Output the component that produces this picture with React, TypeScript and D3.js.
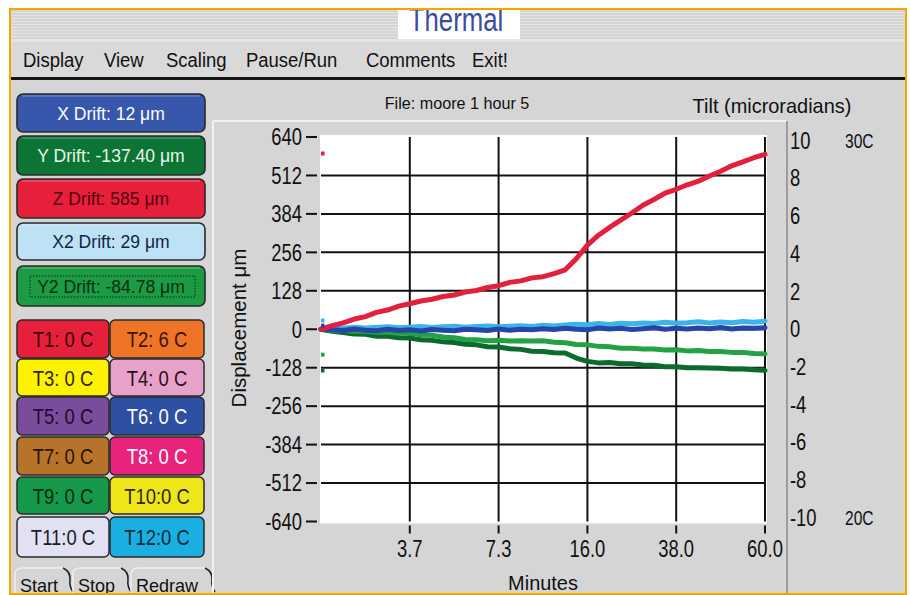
import React from 'react';
import * as d3 from 'd3';

// ---------- data ----------
const samplePos = [0, 0.125, 0.25, 0.375, 0.5, 0.625, 0.75, 0.875, 1, 1.125, 1.25, 1.375, 1.5, 1.625, 1.75, 1.875, 2, 2.125, 2.25, 2.375, 2.5, 2.625, 2.75, 2.875, 3, 3.125, 3.25, 3.375, 3.5, 3.625, 3.75, 3.875, 4, 4.125, 4.25, 4.375, 4.5, 4.625, 4.75, 4.875, 5];
const zDrift = [0, 12, 21, 34, 42, 56, 64, 77, 85, 94, 100, 109, 114, 124, 129, 139, 145, 156, 161, 171, 175, 185, 198, 235, 280, 313, 339, 363, 387, 413, 432, 453, 466, 481, 493, 510, 526, 544, 557, 571, 582];
const yDrift = [0, -7, -11, -16, -17, -23, -23, -28, -29, -35, -37, -42, -44, -50, -52, -58, -59, -65, -67, -73, -74, -78, -79, -96, -107, -112, -111, -115, -115, -119, -120, -125, -125, -128, -128, -129, -130, -132, -132, -135, -137];
const y2Drift = [0, -4, -4, -7, -7, -10, -10, -13, -13, -18, -20, -26, -28, -34, -35, -38, -37, -39, -38, -39, -38, -43, -45, -51, -52, -57, -58, -63, -63, -66, -66, -69, -68, -72, -71, -74, -74, -77, -77, -81, -82];
const xDrift = [0, -2, -4, 1, -3, -5, 0, -4, -2, -6, -1, -3, -5, 0, -2, -4, 1, -3, 0, -2, 2, -1, 3, 0, -2, 4, 1, 3, -1, 2, 5, 0, 3, 1, 4, 2, 6, 1, 4, 3, 5];
const x2Drift = [0, 5, 3, 7, 4, 6, 8, 5, 7, 9, 6, 8, 10, 7, 9, 11, 8, 10, 12, 9, 13, 11, 14, 17, 15, 19, 16, 20, 18, 21, 19, 23, 20, 22, 25, 21, 24, 22, 26, 23, 27];

const xTickLabels = ['3.7', '7.3', '16.0', '38.0', '60.0'];
const dispTicks = [640, 512, 384, 256, 128, 0, -128, -256, -384, -512, -640];
const tiltTicks = [10, 8, 6, 4, 2, 0, -2, -4, -6, -8, -10];
const tempScaleLabels = ['30C', '20C'];
const menuItems = ['Display', 'View', 'Scaling', 'Pause/Run', 'Comments', 'Exit!'];
const driftLabels = ['X Drift: 12 μm', 'Y Drift: -137.40 μm', 'Z Drift: 585 μm', 'X2 Drift: 29 μm', 'Y2 Drift: -84.78 μm'];
const currentValues = [12, -137.4, 585, 29, -84.78];
const tempLabels = ['T1: 0 C', 'T2: 6 C', 'T3: 0 C', 'T4: 0 C', 'T5: 0 C', 'T6: 0 C', 'T7: 0 C', 'T8: 0 C', 'T9: 0 C', 'T10:0 C', 'T11:0 C', 'T12:0 C'];
const controlLabels = ['Start', 'Stop', 'Redraw'];
const fileTitle = 'File: moore 1 hour 5';

// ---------- styles ----------
const driftFill = ['#3757ad', '#0c7535', '#e6203b', '#bde1f5', '#1c9a44'];
const driftText = ['#ffffff', '#e9f7ea', '#55000f', '#132344', '#06300f'];
const lineColor = ['#2646a6', '#0b6a2c', '#e3203c', '#3cb4ea', '#22a244'];
const tempFill = ['#e6203b', '#ee7427', '#fff200', '#e6a2c9', '#7a4c9c', '#2d50a2', '#b7732a', '#e8237c', '#16984a', '#efe61a', '#e2e1f3', '#1aafe0'];
const tempText = ['#3a0008', '#3a1400', '#2a2a00', '#2a1020', '#220a30', '#ffffff', '#2a1400', '#ffffff', '#002a10', '#2a2a00', '#1a1a30', '#0a2a3a'];

const SANS = "'Liberation Sans', Arial, sans-serif";

type NProps = { x: number; y: number; size: number; sx?: number; anchor?: 'start' | 'middle' | 'end'; fill?: string; dy?: string; children: React.ReactNode };
function NText({ x, y, size, sx = 0.82, anchor = 'start', fill = '#111', dy, children }: NProps) {
  return (
    <text transform={`translate(${x},${y}) scale(${sx},1)`} textAnchor={anchor} dy={dy} fontFamily={SANS} fontSize={size} fill={fill}>{children}</text>
  );
}

export default function App() {
  const W = 910, H = 595;
  const plot = { l: 321, r: 765, t: 137, b: 521.5 };
  const x = d3.scaleLinear().domain([0, 5]).range([plot.l, plot.r]);
  const y = d3.scaleLinear().domain([-640, 640]).range([plot.b, plot.t]);
  const yTilt = d3.scaleLinear().domain([-10, 10]).range([517.5, 140.5]);
  const line = d3.line<number>().x((_, i) => x(samplePos[i])).y(d => y(d));

  const series = [yDrift, y2Drift, x2Drift, xDrift, zDrift];
  const seriesColor = [lineColor[1], lineColor[4], lineColor[3], lineColor[0], lineColor[2]];
  const markerColor = [lineColor[0], lineColor[1], lineColor[2], lineColor[3], lineColor[4]];

  const stripes = d3.range(11, 41, 3);
  const menuX = [23, 104, 166, 246, 366, 472];

  const driftTop = [94, 136, 179, 223, 266];
  const driftH = [38, 39, 39, 37, 40];
  const tempRowTop = [320, 359, 397, 437, 477, 517];
  const tempRowH = [38, 37, 38, 38, 37, 40];

  return (
    <svg width={W} height={H} style={{ position: 'absolute', left: 0, top: 0, display: 'block' }}>
      <defs>
        <clipPath id="titleClip"><rect x={11} y={10} width={894} height={32} /></clipPath>
      </defs>
      <rect width={W} height={H} fill="#ffffff" />
      {/* title bar */}
      <rect x={11} y={10} width={894} height={32} fill="#e4e4e4" />
      {stripes.map(s => (
        <line key={s} x1={11} x2={905} y1={s} y2={s} stroke="#c6c6c6" strokeWidth={1.2} />
      ))}
      <rect x={398} y={9} width={122} height={30} fill="#ffffff" />
      <g clipPath="url(#titleClip)">
        <NText x={456} y={31} size={33} sx={0.78} anchor="middle" fill="#3a4d9e">Thermal</NText>
      </g>
      {/* menu bar */}
      <rect x={11} y={42} width={894} height={36} fill="#d9d9d9" />
      {menuItems.map((m, i) => (
        <NText key={m} x={menuX[i]} y={67} size={21} sx={0.88}>{m}</NText>
      ))}
      <rect x={11} y={77} width={894} height={3} fill="#151515" />
      {/* main background */}
      <rect x={11} y={80} width={894} height={515} fill="#d5d5d5" />

      {/* drift buttons */}
      {driftLabels.map((lab, i) => (
        <g key={lab}>
          <rect x={17} y={driftTop[i]} width={188} height={driftH[i]} rx={6} fill={driftFill[i]} stroke="#2a2a2a" strokeWidth={1.6} />
          <line x1={22} x2={200} y1={driftTop[i] + 2} y2={driftTop[i] + 2} stroke="#ffffff" strokeOpacity={0.35} />
          <NText x={111} y={driftTop[i] + driftH[i] / 2 + 6.5} size={18.5} sx={0.95} anchor="middle" fill={driftText[i]}>{lab}</NText>
        </g>
      ))}
      <rect x={30} y={276} width={165} height={21} fill="none" stroke="#06300f" strokeWidth={1} strokeDasharray="1.5,1.5" />

      {/* temperature buttons */}
      {tempLabels.map((lab, i) => {
        const col = i % 2, row = Math.floor(i / 2);
        const bx = col === 0 ? 17 : 110;
        const bw = col === 0 ? 92 : 94;
        return (
          <g key={lab}>
            <rect x={bx} y={tempRowTop[row]} width={bw} height={tempRowH[row]} rx={5} fill={tempFill[i]} stroke="#2a2a2a" strokeWidth={1.5} />
            <NText x={bx + bw / 2} y={tempRowTop[row] + tempRowH[row] / 2 + 8} size={22} sx={0.84} anchor="middle" fill={tempText[i]}>{lab}</NText>
          </g>
        );
      })}

      {/* start / stop / redraw */}
      {controlLabels.map((lab, i) => {
        const bx = [15, 73, 131][i];
        const bw = [58, 58, 84][i];
        return (
          <g key={lab}>
            <path d={`M${bx},${H} L${bx},${574} Q${bx},${568} ${bx + 8},${568} L${bx + bw - 10},${568}`} fill="none" stroke="#efefef" strokeWidth={1.5} />
            <path d={`M${bx + bw - 10},${568} Q${bx + bw - 2},${572} ${bx + bw - 3},${580} Q${bx + bw - 4},${586} ${bx + bw},${592}`} fill="none" stroke="#222" strokeWidth={1.5} />
            <NText x={bx + 5} y={592} size={19} sx={0.95}>{lab}</NText>
          </g>
        );
      })}

      {/* chart panel */}
      <line x1={213} x2={787} y1={121} y2={121} stroke="#f2f2f2" strokeWidth={2} />
      <line x1={213} x2={213} y1={121} y2={H} stroke="#f2f2f2" strokeWidth={2} />
      <line x1={787} x2={787} y1={121} y2={H} stroke="#8a8a8a" strokeWidth={1.5} />

      <NText x={457} y={109} size={17} sx={0.95} anchor="middle">{fileTitle}</NText>
      <NText x={772} y={113} size={21} sx={0.95} anchor="middle">Tilt (microradians)</NText>

      {/* plot area */}
      <rect x={plot.l - 1} y={plot.t - 2} width={plot.r - plot.l + 3} height={plot.b - plot.t + 4} fill="#ffffff" />
      {dispTicks.filter(t => Math.abs(t) < 640).map(t => (
        <line key={t} x1={plot.l} x2={plot.r} y1={y(t)} y2={y(t)} stroke="#111" strokeWidth={2} />
      ))}
      {xTickLabels.map((lab, i) => (
        <g key={lab}>
          <line x1={x(i + 1)} x2={x(i + 1)} y1={plot.t} y2={plot.b} stroke="#111" strokeWidth={2} />
          <line x1={x(i + 1)} x2={x(i + 1)} y1={plot.b + 4} y2={plot.b + 12} stroke="#111" strokeWidth={2} />
          <NText x={x(i + 1)} y={557} size={23} sx={0.8} anchor="middle">{lab}</NText>
        </g>
      ))}
      {dispTicks.map(t => (
        <g key={t}>
          <line x1={306} x2={317} y1={y(t)} y2={y(t)} stroke="#111" strokeWidth={2} />
          <NText x={302} y={y(t)} dy="0.36em" size={23} sx={0.8} anchor="end">{t}</NText>
        </g>
      ))}
      <text transform={`translate(246,${328}) rotate(-90)`} textAnchor="middle" fontFamily={SANS} fontSize={20.5} fill="#111">Displacement μm</text>
      <NText x={543} y={590} size={21} sx={0.95} anchor="middle">Minutes</NText>

      {tiltTicks.map(t => (
        <NText key={t} x={790} y={yTilt(t)} dy="0.36em" size={23} sx={0.8}>{t}</NText>
      ))}
      <NText x={845} y={yTilt(10)} dy="0.36em" size={20} sx={0.78}>{tempScaleLabels[0]}</NText>
      <NText x={845} y={yTilt(-10)} dy="0.36em" size={20} sx={0.78}>{tempScaleLabels[1]}</NText>

      {/* series */}
      {series.map((s, i) => (
        <path key={i} d={line(s) || ''} fill="none" stroke={seriesColor[i]} strokeWidth={5} strokeLinejoin="round" strokeLinecap="round" />
      ))}
      {currentValues.map((v, i) => (
        <rect key={i} x={plot.l} y={y(v) - 2} width={3.5} height={4} fill={markerColor[i]} />
      ))}

      {/* frame */}
      <rect x={10} y={9} width={896} height={585} fill="none" stroke="#f0a800" strokeWidth={2} />
    </svg>
  );
}
